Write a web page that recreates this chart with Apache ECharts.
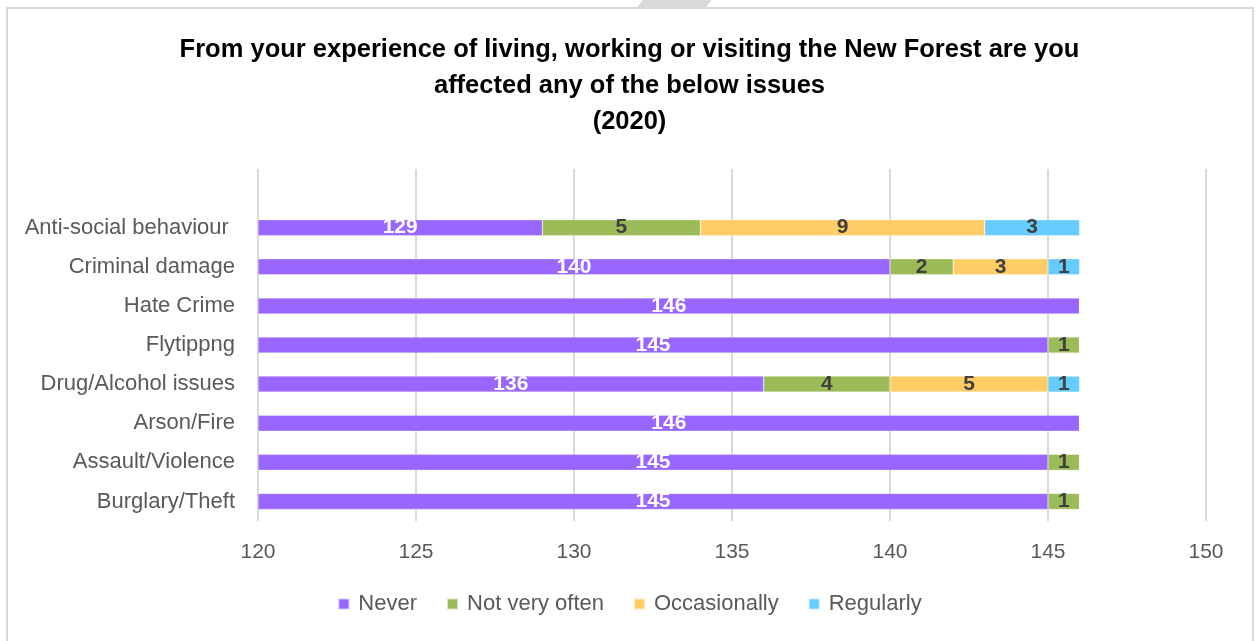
<!DOCTYPE html>
<html>
<head>
<meta charset="utf-8">
<script src="https://cdn.jsdelivr.net/npm/echarts@6/dist/echarts.min.js"></script>
<style>
    html, body { margin: 0; padding: 0; background: #fff; }
    #chart { width: 1259px; height: 641px; }
</style>
</head>
<body>
<div id="chart"></div>
<script>
// bottom to top, blank row at the top like the original
const categories = ['Burglary/Theft', 'Assault/Violence', 'Arson/Fire', 'Drug/Alcohol issues', 'Flytippng', 'Hate Crime', 'Criminal damage', 'Anti-social behaviour ', ''];
const never = [145, 145, 146, 136, 145, 146, 140, 129, null];
const notVeryOften = [1, 1, 0, 4, 1, 0, 2, 5, null];
const occasionally = [0, 0, 0, 5, 0, 0, 3, 9, null];
const regularly = [0, 0, 0, 1, 0, 0, 1, 3, null];
const xTicks = [120, 150, 5]; // min, max, step

const color = {
    text: '#595959',
    label: '#404040',
    grid: '#d9d9d9',
    item: ['#9966ff', '#9bbb59', '#ffcc66', '#66ccff'],
};
const font = 'Liberation Sans Narrow, Liberation Sans, sans-serif';

const makeSeries = function (name, data, idx) {
    return {
        name: name,
        type: 'bar',
        stack: 'total',
        barWidth: 16,
        data: data,
        itemStyle: { color: color.item[idx], borderColor: 'rgba(255,255,255,0.6)', borderWidth: 0.5 },
        label: {
            show: true,
            position: 'inside',
            color: idx === 0 ? '#fff' : color.label,
            fontWeight: 'bold',
            fontSize: 21,
            fontFamily: font,
            formatter: p => (p.value ? p.value : ''),
        },
    };
};

const chart = echarts.init(document.getElementById('chart'));
chart.setOption({
    color: color.item,
    animation: false,
    title: {
        text: 'From your experience of living, working or visiting the New Forest are you\naffected any of the below issues\n(2020)',
        left: 'center',
        top: 27,
        textStyle: { fontSize: 25.5, fontWeight: 'bold', color: '#000', fontFamily: font, lineHeight: 36 },
    },
    graphic: [
        { type: 'rect', shape: { x: 7, y: 8, width: 1246, height: 650 }, style: { fill: 'none', stroke: '#d9d9d9', lineWidth: 2 } },
        { type: 'polygon', shape: { points: [[643, 0], [712, 0], [706, 7], [637, 7]] }, style: { fill: '#d9d9d9' } },
    ],
    legend: {
        bottom: 21,
        left: 'center',
        itemWidth: 11,
        itemHeight: 11,
        itemGap: 29,
        icon: 'rect',
        textStyle: { color: color.text, fontSize: 22, fontFamily: font, padding: [0, 0, 0, 4] },
        data: ['Never', 'Not very often', 'Occasionally', 'Regularly'],
    },
    grid: { left: 258, right: 53, top: 169, bottom: 120 },
    xAxis: {
        type: 'value',
        min: xTicks[0],
        max: xTicks[1],
        interval: xTicks[2],
        startValue: xTicks[0],
        axisLine: { show: false },
        axisTick: { show: false },
        splitLine: { lineStyle: { color: color.grid, width: 2 } },
        axisLabel: { color: color.text, fontSize: 21, fontFamily: font, margin: 21 },
    },
    yAxis: {
        type: 'category',
        data: categories,
        axisLine: { show: false },
        axisTick: { show: false },
        axisLabel: { color: color.text, fontSize: 22, fontFamily: font, margin: 23 },
    },
    series: [
        makeSeries('Never', never, 0),
        makeSeries('Not very often', notVeryOften, 1),
        makeSeries('Occasionally', occasionally, 2),
        makeSeries('Regularly', regularly, 3),
    ],
});
</script>
</body>
</html>
